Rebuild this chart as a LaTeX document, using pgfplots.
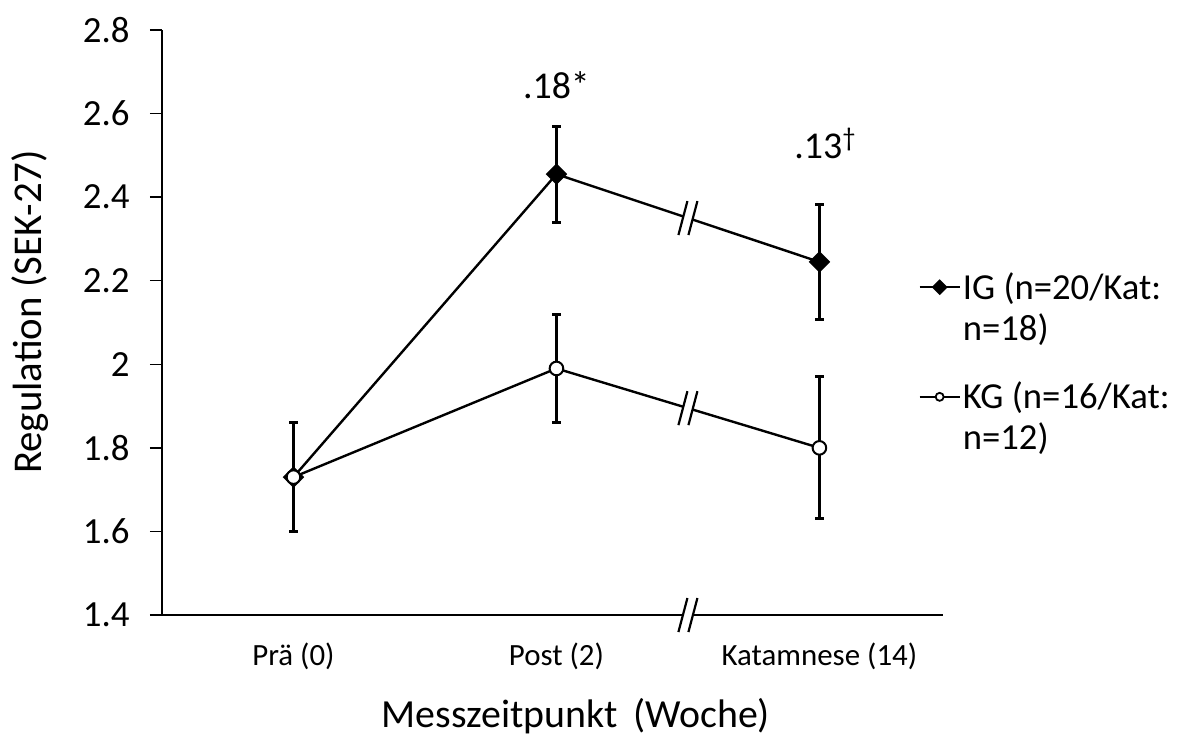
\documentclass[border=0pt]{standalone}
\usepackage{fontspec}
\setmainfont{Carlito}
\usepackage{pgfplots}
\pgfplotsset{compat=1.18}
\usetikzlibrary{calc}

% break symbol "//" drawn across a line at a named point
\newcommand{\linebreakmark}[1]{%
  \fill[white] ($(#1)+(-4.75bp,-8.5bp)$) -- ($(#1)+(-0.25bp,8.5bp)$) -- ($(#1)+(4.75bp,8.5bp)$) -- ($(#1)+(0.25bp,-8.5bp)$) -- cycle;
  \draw[line width=1.1bp] ($(#1)+(-4.75bp,-8.5bp)$) -- ($(#1)+(-0.25bp,8.5bp)$)
                          ($(#1)+(0.25bp,-8.5bp)$) -- ($(#1)+(4.75bp,8.5bp)$);}

\begin{document}
\begin{tikzpicture}
\path[use as bounding box] (-81bp,-60bp) rectangle (507.5bp,307.5bp);
\begin{axis}[
  at={(0,0)}, anchor=south west,
  scale only axis, width=390.5bp, height=292.5bp,
  xmin=-0.5, xmax=2.47, ymin=1.4, ymax=2.8,
  clip=false,
  axis x line*=bottom, axis y line*=left,
  axis line style={line width=0.75bp, -},
  xtick={0,1,2},
  xticklabels={Prä (0), Post (2), Katamnese (14)},
  ytick={1.4,1.6,1.8,2,2.2,2.4,2.6,2.8},
  x tick style={draw=none},
  y tick style={line width=0.75bp, black},
  tick align=outside, major tick length=6bp,
  yticklabel style={font=\fontsize{18.5}{21}\selectfont, anchor=east, inner sep=0pt, xshift=-10bp,
    /pgf/number format/fixed, /pgf/number format/precision=1,
    /pgf/number format/assume math mode=true},
  xticklabel style={font=\fontsize{15.5}{18}\selectfont, anchor=center, yshift=-14.5bp},
  ylabel={Regulation (SEK-27)},
  xlabel={Messzeitpunkt\, (Woche)},
  ylabel style={font=\fontsize{20.5}{24}\selectfont, at={(axis description cs:-0.169,0.518)}, anchor=center},
  xlabel style={font=\fontsize{20}{24}\selectfont, at={(axis description cs:0.530,-0.173)}, anchor=center},
  legend style={at={(axis description cs:0.9604,0.4316)}, anchor=west, draw=none, fill=none,
    font=\fontsize{18.4}{20.5}\selectfont, nodes={align=left, inner sep=0pt}, row sep=19.5bp,
    column sep=1bp},
  legend cell align=left,
  legend image code/.code={\draw[mark repeat=2,mark phase=2,#1] plot coordinates {(0bp,10.25bp)(10bp,10.25bp)(20bp,10.25bp)};},
]
% IG
\addplot[forget plot, black, line width=1.2bp, mark=square*, mark size=3.2bp, mark options={rotate=45, solid},
  error bars/.cd, y dir=both, y explicit,
  error bar style={line width=1.4bp, black},
  error mark options={rotate=90, line width=1.4bp, mark size=2.2bp, black}]
  coordinates {(0,1.73) +- (0,0.13) (1,2.455) +- (0,0.115) (2,2.245) +- (0,0.137)};
% KG
\addplot[forget plot, black, line width=1.2bp, mark=*, mark size=3.4bp, mark options={fill=white, line width=1bp, solid},
  error bars/.cd, y dir=both, y explicit,
  error bar style={line width=1.4bp, black},
  error mark options={rotate=90, line width=1.4bp, mark size=2.2bp, black}]
  coordinates {(0,1.73) +- (0,0.13) (1,1.99) +- (0,0.13) (2,1.80) +- (0,0.17)};

\addlegendimage{black, line width=1.2bp, mark=square*, mark size=2.2bp, mark options={rotate=45, solid}}
\addlegendentry{IG (n=20/Kat:\\n=18)}
\addlegendimage{black, line width=1.2bp, mark=*, mark size=2bp, mark options={fill=white, line width=0.9bp, solid}}
\addlegendentry{KG (n=16/Kat:\\n=12)}

\node[anchor=base, font=\fontsize{19}{21}\selectfont] at (axis cs:1,2.635) {.18*};
\node[anchor=base, font=\fontsize{19}{21}\selectfont, xshift=3bp] at (axis cs:2,2.492) {.13\textsuperscript{†}};

\coordinate (bIG) at (axis cs:1.5,2.35);
\coordinate (bKG) at (axis cs:1.5,1.895);
\coordinate (bAX) at (axis cs:1.5,1.4);
\end{axis}
\linebreakmark{bIG}
\linebreakmark{bKG}
\linebreakmark{bAX}
\end{tikzpicture}
\end{document}
